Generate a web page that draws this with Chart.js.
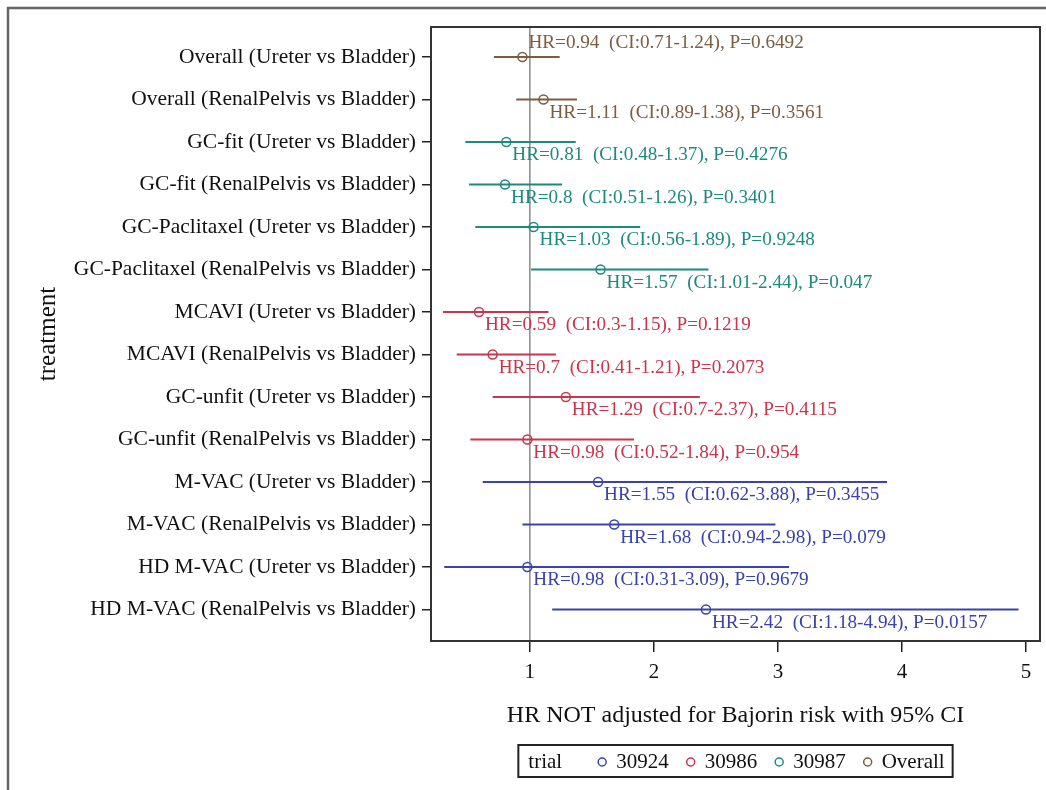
<!DOCTYPE html>
<html>
<head>
<meta charset="utf-8">
<script src="https://cdn.jsdelivr.net/npm/chart.js@4/dist/chart.umd.min.js"></script>
<style>
  html, body { margin: 0; padding: 0; background: #fff; }
</style>
</head>
<body>
<canvas id="forestChart" width="1046" height="790"></canvas>
<script>
// Rows, top to bottom
const categories = [
  'Overall (Ureter vs Bladder)',
  'Overall (RenalPelvis vs Bladder)',
  'GC-fit (Ureter vs Bladder)',
  'GC-fit (RenalPelvis vs Bladder)',
  'GC-Paclitaxel (Ureter vs Bladder)',
  'GC-Paclitaxel (RenalPelvis vs Bladder)',
  'MCAVI (Ureter vs Bladder)',
  'MCAVI (RenalPelvis vs Bladder)',
  'GC-unfit (Ureter vs Bladder)',
  'GC-unfit (RenalPelvis vs Bladder)',
  'M-VAC (Ureter vs Bladder)',
  'M-VAC (RenalPelvis vs Bladder)',
  'HD M-VAC (Ureter vs Bladder)',
  'HD M-VAC (RenalPelvis vs Bladder)'
];
const rowTrial = ['Overall', 'Overall', '30987', '30987', '30987', '30987',
  '30986', '30986', '30986', '30986', '30924', '30924', '30924', '30924'];
const hrValues = [0.94, 1.11, 0.81, 0.8, 1.03, 1.57, 0.59, 0.7, 1.29, 0.98, 1.55, 1.68, 0.98, 2.42];
const ciLow = [0.71, 0.89, 0.48, 0.51, 0.56, 1.01, 0.3, 0.41, 0.7, 0.52, 0.62, 0.94, 0.31, 1.18];
const ciHigh = [1.24, 1.38, 1.37, 1.26, 1.89, 2.44, 1.15, 1.21, 2.37, 1.84, 3.88, 2.98, 3.09, 4.94];
const pValues = [0.6492, 0.3561, 0.4276, 0.3401, 0.9248, 0.047, 0.1219, 0.2073, 0.4115, 0.954, 0.3455, 0.079, 0.9679, 0.0157];

const trialNames = ['30924', '30986', '30987', 'Overall'];
const xTicks = [1, 2, 3, 4, 5];
const refValue = 1;

const trialColors = {
  '30924': '#3a42ac',
  '30986': '#c9354d',
  '30987': '#1d8a80',
  'Overall': '#7d5c40'
};
const serif = '"Liberation Serif", "Times New Roman", serif';

// one short line per row for the confidence interval
const ciDatasets = categories.map((c, i) => ({
  label: 'ci-' + i,
  data: [{ x: ciLow[i], y: i }, { x: ciHigh[i], y: i }],
  showLine: true,
  borderColor: trialColors[rowTrial[i]],
  borderWidth: 2,
  pointRadius: 0,
  pointHoverRadius: 0
}));

// hazard ratio markers, one dataset per trial
const markerDatasets = trialNames.map(t => ({
  label: t,
  data: hrValues.map((v, i) => ({ x: v, y: i })).filter((p, i) => rowTrial[i] === t),
  pointStyle: 'circle',
  pointRadius: 4.5,
  pointBorderWidth: 1.5,
  borderColor: trialColors[t],
  backgroundColor: 'rgba(0,0,0,0)',
  showLine: false
}));

const forestPlugin = {
  id: 'forestExtras',
  beforeDraw(chart) {
    const ctx = chart.ctx;
    ctx.save();
    ctx.fillStyle = '#fff';
    ctx.fillRect(0, 0, chart.width, chart.height);
    // outer frame (top and left only visible)
    ctx.strokeStyle = '#666';
    ctx.lineWidth = 2.5;
    ctx.beginPath();
    ctx.moveTo(8, chart.height);
    ctx.lineTo(8, 8);
    ctx.lineTo(chart.width, 8);
    ctx.stroke();
    ctx.restore();
  },
  beforeDatasetsDraw(chart) {
    const { ctx, chartArea: a, scales: { x } } = chart;
    const px = x.getPixelForValue(refValue);
    ctx.save();
    ctx.strokeStyle = '#8a8a8a';
    ctx.lineWidth = 1.5;
    ctx.beginPath();
    ctx.moveTo(px, a.top);
    ctx.lineTo(px, a.bottom);
    ctx.stroke();
    ctx.restore();
  },
  afterDatasetsDraw(chart) {
    const { ctx, chartArea: a, scales: { x, y } } = chart;
    ctx.save();
    // plot box
    ctx.strokeStyle = '#333';
    ctx.lineWidth = 2;
    ctx.strokeRect(a.left, a.top, a.right - a.left, a.bottom - a.top);

    // HR text next to each marker
    ctx.font = '19.2px ' + serif;
    ctx.textBaseline = 'middle';
    ctx.textAlign = 'left';
    categories.forEach((c, i) => {
      const px = x.getPixelForValue(hrValues[i]);
      const py = y.getPixelForValue(i);
      const above = i === 0;
      ctx.fillStyle = trialColors[rowTrial[i]];
      ctx.fillText('HR=' + hrValues[i] + '  (CI:' + ciLow[i] + '-' + ciHigh[i] + '), P=' + pValues[i],
        px + 6, py + (above ? -14 : 13));
    });

    // legend box
    ctx.font = '21px ' + serif;
    const title = 'trial';
    const titleW = ctx.measureText(title).width;
    const widths = trialNames.map(n => ctx.measureText(n).width);
    const padL = 10, padR = 8, afterTitle = 36, dot = 8, dotGap = 10, itemGap = 18;
    let total = padL + titleW + afterTitle + padR;
    widths.forEach((w, k) => { total += dot + dotGap + w + (k < widths.length - 1 ? itemGap : 0); });
    const cx = (a.left + a.right) / 2;
    const bx = cx - total / 2, by = a.bottom + 104, bh = 32;
    ctx.strokeStyle = '#222';
    ctx.lineWidth = 2;
    ctx.strokeRect(bx, by, total, bh);
    let lx = bx + padL;
    const ly = by + bh / 2 + 1;
    ctx.fillStyle = '#111';
    ctx.fillText(title, lx, ly);
    lx += titleW + afterTitle;
    trialNames.forEach((n, k) => {
      ctx.strokeStyle = trialColors[n];
      ctx.lineWidth = 1.5;
      ctx.beginPath();
      ctx.arc(lx + dot / 2, ly, 4, 0, Math.PI * 2);
      ctx.stroke();
      lx += dot + dotGap;
      ctx.fillStyle = '#111';
      ctx.fillText(n, lx, ly);
      lx += widths[k] + itemGap;
    });
    ctx.restore();
  }
};

const ctx = document.getElementById('forestChart').getContext('2d');
const forestChart = new Chart(ctx, {
  type: 'scatter',
  data: { datasets: [...ciDatasets, ...markerDatasets] },
  options: {
    responsive: false,
    animation: false,
    layout: { padding: { left: 33, top: 27, right: 5, bottom: 58 } },
    plugins: {
      legend: { display: false },
      tooltip: { enabled: false }
    },
    scales: {
      x: {
        type: 'linear',
        min: 0.203,
        max: 5.113,
        afterBuildTicks: s => { s.ticks = xTicks.map(v => ({ value: v })); },
        afterFit: s => { s.height = 91; },
        grid: { drawOnChartArea: false, drawTicks: true, tickLength: 11, color: '#222', lineWidth: 1.5 },
        border: { display: false },
        ticks: { font: { family: serif, size: 21 }, color: '#111', padding: 8 },
        title: {
          display: true,
          text: 'HR NOT adjusted for Bajorin risk with 95% CI',
          font: { family: serif, size: 24 },
          color: '#111',
          padding: { top: 0, bottom: 2 }
        }
      },
      y: {
        type: 'linear',
        reverse: true,
        min: -0.706,
        max: 13.74,
        afterBuildTicks: s => { s.ticks = categories.map((c, i) => ({ value: i })); },
        afterFit: s => { s.width = 398; },
        grid: { drawOnChartArea: false, drawTicks: true, tickLength: 9, color: '#222', lineWidth: 1.5 },
        border: { display: false },
        ticks: {
          font: { family: serif, size: 21.5 },
          color: '#111',
          padding: 6,
          callback: v => categories[v]
        },
        title: {
          display: true,
          text: 'treatment',
          font: { family: serif, size: 25 },
          color: '#111',
          padding: { top: 0, bottom: 0 }
        }
      }
    }
  },
  plugins: [forestPlugin]
});
</script>
</body>
</html>
